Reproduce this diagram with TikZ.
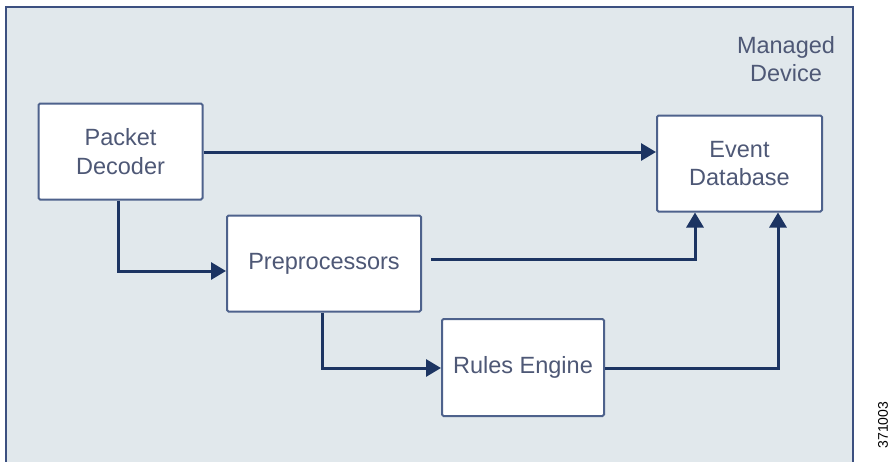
\documentclass[tikz,border=0pt]{standalone}
\usepackage{fontspec}
\setmainfont{Liberation Sans}
\usetikzlibrary{arrows.meta,calc}
\definecolor{bgfill}{RGB}{225,232,236}
\definecolor{outerline}{RGB}{60,80,128}
\definecolor{boxline}{RGB}{78,98,140}
\definecolor{arrowc}{RGB}{28,52,98}
\definecolor{textc}{RGB}{78,88,118}
\tikzset{
  block/.style={draw=boxline, line width=2pt, fill=white, rounded corners=1.5pt,
    inner sep=0pt, align=center, text=textc,
    font=\fontsize{23.5}{28.5}\selectfont},
  flow/.style={draw=arrowc, line width=3pt, -{Triangle[length=15pt,width=17pt]}}
}
\begin{document}
\begin{tikzpicture}[x=1pt,y=-1pt]
\useasboundingbox (0,0) rectangle (891,461);
\begin{scope}
\clip (0,0) rectangle (891,461);
\draw[outerline, line width=2.2pt, fill=bgfill] (6,7) rectangle (853,480);
\end{scope}
\node[text=textc, align=center, font=\fontsize{23.5}{28.5}\selectfont] (md) at (786,59) {Managed\\Device};
\node[block, minimum width=164pt, minimum height=96pt] (pd) at (120.5,151.5) {Packet\\Decoder};
\node[block, minimum width=165pt, minimum height=96pt] (ed) at (739.5,163.5) {Event\\Database};
\node[block, minimum width=194pt, minimum height=96pt] (pre) at (324,263.5) {Preprocessors};
\node[block, minimum width=162pt, minimum height=97pt] (re) at (523,367.5) {Rules Engine};
\node[rotate=90, anchor=north, inner sep=0pt, font=\fontsize{14}{17}\selectfont] (fig) at (878,425) {371003};
\coordinate (pdout) at (pd.east |- 0,152);
\draw[flow] (pdout) -- (pdout -| ed.west);
\draw[flow] (pd.south -| 118,0) |- (pre.west |- 0,271);
\coordinate (preout) at ([xshift=9pt]pre.east |- 0,259);
\draw[flow] (preout) -| (ed.south -| 695,0);
\draw[flow] (pre.south -| 322,0) |- (re.west |- 0,368);
\draw[flow] (re.east |- 0,368) -| (ed.south -| 778,0);
\end{tikzpicture}
\end{document}
